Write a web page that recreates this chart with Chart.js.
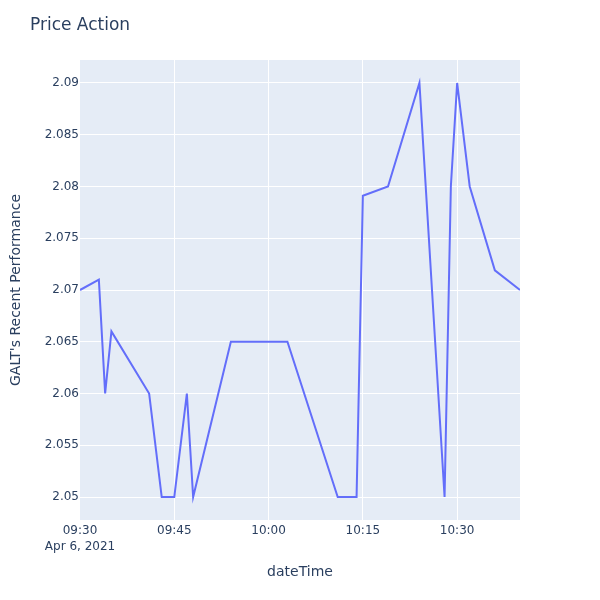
<!DOCTYPE html>
<html>
<head>
<meta charset="utf-8">
<script src="https://cdn.jsdelivr.net/npm/chart.js@4.4.1/dist/chart.umd.min.js"></script>
<style>
html,body{margin:0;padding:0;background:#fff;}
#wrap{width:600px;height:600px;position:relative;}
</style>
</head>
<body>
<div id="wrap"><canvas id="c" width="600" height="600"></canvas></div>
<script>
// Data (Apr 6, 2021)
const times = ["09:30","09:33","09:34","09:35","09:41","09:43","09:45","09:47","09:48","09:54","10:03","10:11","10:14","10:15","10:19","10:24","10:28","10:29","10:30","10:32","10:36","10:40"];
const prices = [2.07,2.071,2.06,2.066,2.06,2.05,2.05,2.06,2.05,2.065,2.065,2.05,2.05,2.0791,2.08,2.09,2.05,2.08,2.09,2.08,2.0719,2.07];
const xTickLabels = ["09:30","09:45","10:00","10:15","10:30"];
const dateLabel = "Apr 6, 2021";
const yTickValues = [2.05,2.055,2.06,2.065,2.07,2.075,2.08,2.085,2.09];
const titleText = "Price Action";
const xTitle = "dateTime";
const yTitle = "GALT's Recent Performance";

function toMin(t){const [h,m]=t.split(":").map(Number);return (h-9)*60+m-30;}
const points = times.map((t,i)=>({x:toMin(t),y:prices[i]}));
const xTickValues = xTickLabels.map(toMin);

const FONT = "'DejaVu Sans', sans-serif";
const TXT = "#2a3f5f";

const bgPlugin = {
  id:'bg',
  beforeDraw(chart){
    const {ctx, chartArea:a} = chart;
    ctx.save();
    ctx.fillStyle = "#ffffff";
    ctx.fillRect(0,0,chart.width,chart.height);
    ctx.fillStyle = "#E5ECF6";
    ctx.fillRect(a.left,a.top,a.right-a.left,a.bottom-a.top);
    ctx.restore();
  },
  afterDraw(chart){
    const ctx = chart.ctx;
    ctx.save();
    ctx.fillStyle = TXT;
    ctx.font = "17px " + FONT;
    ctx.textBaseline = "middle";
    ctx.textAlign = "left";
    ctx.fillText(titleText, 30, 26);
    ctx.restore();
  }
};

new Chart(document.getElementById('c'), {
  type:'line',
  data:{datasets:[{
    data:points,
    borderColor:'#636EFA',
    borderWidth:2,
    pointRadius:0,
    tension:0,
    fill:false
  }]},
  options:{
    responsive:false,
    animation:false,
    layout:{padding:{left:0,right:80,top:60,bottom:0}},
    plugins:{legend:{display:false},tooltip:{enabled:false},title:{display:false}},
    scales:{
      x:{
        type:'linear',
        min:0,max:70,
        border:{display:false},
        grid:{color:(c)=> c.tick && c.tick.value===0 ? 'rgba(0,0,0,0)' : '#ffffff', lineWidth:1, drawTicks:false},
        afterBuildTicks(s){ s.ticks = xTickValues.map(v=>({value:v})); },
        afterFit(s){ s.height = 80; },
        ticks:{
          color:TXT, font:{family:FONT,size:12,lineHeight:1.4}, padding:2, maxRotation:0, autoSkip:false,
          callback:(v,i)=> i===0 ? [xTickLabels[i], dateLabel] : xTickLabels[i]
        },
        title:{display:true,text:xTitle,color:TXT,font:{family:FONT,size:14},padding:{top:0,bottom:19}}
      },
      y:{
        type:'linear',
        min:2.04778,max:2.09222,
        border:{display:false},
        grid:{color:'#ffffff',lineWidth:1,drawTicks:false},
        afterBuildTicks(s){ s.ticks = yTickValues.map(v=>({value:v})); },
        afterFit(s){ s.width = 80; },
        ticks:{
          color:TXT, font:{family:FONT,size:12}, padding:1,
          callback:(v)=> String(+v.toFixed(3))
        },
        title:{display:true,text:yTitle,color:TXT,font:{family:FONT,size:14},padding:{top:8,bottom:0}}
      }
    }
  },
  plugins:[bgPlugin]
});
</script>
</body>
</html>
